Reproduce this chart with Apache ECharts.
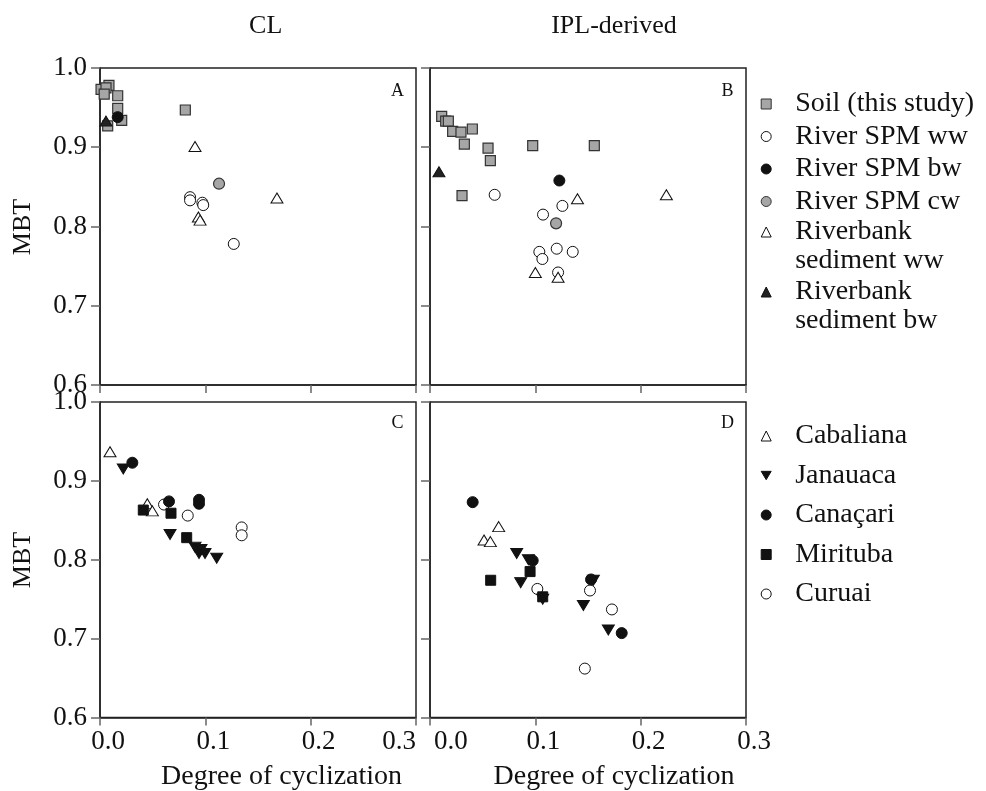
<!DOCTYPE html>
<html>
<head>
<meta charset="utf-8">
<script src="https://cdn.jsdelivr.net/npm/echarts@6/dist/echarts.min.js"></script>
<style>html,body{margin:0;padding:0;background:#fff}#c{width:986px;height:791px}</style>
</head>
<body>
<div id="c"></div>
<script>
// ---- axis ticks ----
const xTicks = [0.0, 0.1, 0.2, 0.3];
const yTicks = [0.6, 0.7, 0.8, 0.9, 1.0];

// ---- Panel A (CL) ----
const soilCL = [[0.0085,0.978],[0.001,0.973],[0.0057,0.975],[0.004,0.967],[0.0168,0.965],[0.0168,0.949],[0.0206,0.934],[0.0073,0.927],[0.081,0.947]];
const spmWwCL = [[0.0855,0.837],[0.0855,0.833],[0.0972,0.830],[0.098,0.827],[0.127,0.778]];
const spmBwCL = [[0.0168,0.938]];
const spmCwCL = [[0.113,0.854]];
const bankWwCL = [[0.0902,0.901],[0.168,0.836],[0.0934,0.812],[0.095,0.808]];
const bankBwCL = [[0.0057,0.933]];

// ---- Panel B (IPL-derived) ----
const soilIPL = [[0.0111,0.939],[0.0149,0.933],[0.0174,0.933],[0.0215,0.920],[0.0294,0.919],[0.0402,0.923],[0.0326,0.904],[0.0551,0.899],[0.0573,0.883],[0.0975,0.902],[0.156,0.902],[0.0304,0.839]];
const spmWwIPL = [[0.0614,0.840],[0.1257,0.826],[0.1073,0.815],[0.1038,0.768],[0.1067,0.759],[0.1203,0.772],[0.1355,0.768],[0.1216,0.742]];
const spmBwIPL = [[0.1228,0.858]];
const spmCwIPL = [[0.1197,0.804]];
const bankWwIPL = [[0.140,0.835],[0.2244,0.840],[0.100,0.742],[0.1216,0.736]];
const bankBwIPL = [[0.0085,0.869]];

// ---- Panel C (CL, lakes) ----
const cabCL = [[0.0095,0.937],[0.0449,0.871],[0.0497,0.862]];
const janCL = [[0.0221,0.915],[0.0665,0.832],[0.0902,0.816],[0.0959,0.813],[0.094,0.808],[0.0997,0.808],[0.1108,0.802]];
const canCL = [[0.0307,0.923],[0.0655,0.874],[0.094,0.876],[0.094,0.871]];
const mirCL = [[0.0411,0.863],[0.0674,0.859],[0.0823,0.828]];
const curCL = [[0.0608,0.870],[0.0833,0.856],[0.1345,0.841],[0.1345,0.831]];

// ---- Panel D (IPL-derived, lakes) ----
const cabIPL = [[0.0652,0.842],[0.0513,0.825],[0.0573,0.823]];
const janIPL = [[0.0823,0.808],[0.0934,0.800],[0.0861,0.771],[0.107,0.750],[0.1456,0.742],[0.1551,0.774],[0.1693,0.711]];
const canIPL = [[0.0405,0.873],[0.0975,0.799],[0.1529,0.775],[0.182,0.707]];
const mirIPL = [[0.0576,0.774],[0.095,0.785],[0.107,0.753]];
const curIPL = [[0.1019,0.763],[0.1519,0.761],[0.1727,0.737],[0.147,0.662]];

const topNames = ['Soil (this study)','River SPM ww','River SPM bw','River SPM cw','Riverbank sediment ww','Riverbank sediment bw'];
const botNames = ['Cabaliana','Janauaca','Canaçari','Mirituba','Curuai'];

const SERIF = '"Liberation Serif", "Times New Roman", serif';
const GRAY = '#a6a6a6', DARK = '#333333';
const DOWN = 'path://M0,0L12,0L6,10Z';

const grids = [
  {left:100, top:68, width:316, height:317},
  {left:430, top:68, width:316, height:317},
  {left:100, top:402, width:316, height:315.5},
  {left:430, top:402, width:316, height:315.5}
].map(g => Object.assign({show:true, borderColor:'#222', borderWidth:1.5, backgroundColor:'transparent'}, g));

function xAx(i, showLabel){
  const isC = i === 2, isD = i === 3;
  return {gridIndex:i, type:'value', min:xTicks[0], max:xTicks[xTicks.length-1], interval:0.1,
    splitLine:{show:false},
    axisLine:{show:true, onZero:false, lineStyle:{color:'#222', width:1.5}},
    axisTick:{show:true, inside:false, length:8, lineStyle:{color:'#666', width:1.5}},
    axisLabel:{show:showLabel, margin:11, fontFamily:SERIF, fontSize:27, color:'#111',
      alignMaxLabel: isC ? 'right' : 'center',
      alignMinLabel: isD ? 'left' : 'center',
      formatter:(v)=>{
        const s = v.toFixed(1);
        if (isC && Math.abs(v - xTicks[xTicks.length-1]) < 1e-9) return '{n|' + s + '}';
        if (isD && Math.abs(v - xTicks[0]) < 1e-9) return '{q|' + s + '}';
        return '{p|' + s + '}';
      },
      rich:{
        p:{fontFamily:SERIF, fontSize:27, color:'#111', padding:[0,0,0,16]},
        n:{fontFamily:SERIF, fontSize:27, color:'#111'},
        q:{fontFamily:SERIF, fontSize:27, color:'#111', padding:[0,0,0,4]}
      }}};
}
function yAx(i, showLabel){
  return {gridIndex:i, type:'value', min:yTicks[0], max:yTicks[yTicks.length-1], interval:0.1,
    splitLine:{show:false},
    axisLine:{show:true, onZero:false, lineStyle:{color:'#222', width:1.5}},
    axisTick:{show:true, inside:false, length:9, lineStyle:{color:'#666', width:1.5}},
    axisLabel:{show:showLabel, margin:13, fontFamily:SERIF, fontSize:27, color:'#111',
      formatter:v=>v.toFixed(1)}};
}

function S(name, data, gi, symbol, size, fill, stroke, bw){
  return {type:'scatter', name:name, data:data, xAxisIndex:gi, yAxisIndex:gi,
    symbol:symbol, symbolSize:size,
    itemStyle:{color:fill, borderColor:stroke, borderWidth:bw, opacity:1},
    emphasis:{disabled:true}, animation:false};
}

const series = [
  S(topNames[0], soilCL, 0, 'rect', 10, GRAY, DARK, 1.2),
  S(topNames[1], spmWwCL, 0, 'circle', 11, '#fff', '#111', 1),
  S(topNames[4], bankWwCL, 0, 'triangle', [12,10], '#fff', '#111', 1),
  S(topNames[3], spmCwCL, 0, 'circle', 11, GRAY, DARK, 1.2),
  S(topNames[5], bankBwCL, 0, 'triangle', [12,10], '#222', '#111', 1),
  S(topNames[2], spmBwCL, 0, 'circle', 11, '#111', '#111', 1),

  S(topNames[0], soilIPL, 1, 'rect', 10, GRAY, DARK, 1.2),
  S(topNames[1], spmWwIPL, 1, 'circle', 11, '#fff', '#111', 1),
  S(topNames[4], bankWwIPL, 1, 'triangle', [12,10], '#fff', '#111', 1),
  S(topNames[3], spmCwIPL, 1, 'circle', 11, GRAY, DARK, 1.2),
  S(topNames[5], bankBwIPL, 1, 'triangle', [12,10], '#222', '#111', 1),
  S(topNames[2], spmBwIPL, 1, 'circle', 11, '#111', '#111', 1),

  S(botNames[0], cabCL, 2, 'triangle', [12,10], '#fff', '#111', 1),
  S(botNames[4], curCL, 2, 'circle', 11, '#fff', '#111', 1),
  S(botNames[1], janCL, 2, DOWN, [12,10], '#111', '#111', 1),
  S(botNames[2], canCL, 2, 'circle', 11, '#111', '#111', 1),
  S(botNames[3], mirCL, 2, 'rect', 10, '#111', '#111', 1),

  S(botNames[0], cabIPL, 3, 'triangle', [12,10], '#fff', '#111', 1),
  S(botNames[4], curIPL, 3, 'circle', 11, '#fff', '#111', 1),
  S(botNames[1], janIPL, 3, DOWN, [12,10], '#111', '#111', 1),
  S(botNames[2], canIPL, 3, 'circle', 11, '#111', '#111', 1),
  S(botNames[3], mirIPL, 3, 'rect', 10, '#111', '#111', 1)
];

const legendText = {fontFamily:SERIF, fontSize:28, color:'#111', lineHeight:29, padding:[0,0,0,19]};
function leg(names, top, gap, fmt){
  const o = {orient:'vertical', left:760.7, top:top, padding:0, itemGap:gap, itemWidth:10, itemHeight:10,
    selectedMode:false, symbolKeepAspect:true, itemStyle:{borderWidth:1},
    textStyle:legendText, data:names};
  if (fmt) o.formatter = fmt;
  return o;
}
const twoLine = n => '\n' + n.replace('Riverbank ', 'Riverbank\n');
const legends = [
  leg(topNames.slice(0,4), 89.5, 3.5),
  leg([topNames[4]], 232 - 43.5, 0, twoLine),
  leg([topNames[5]], 292 - 43.5, 0, twoLine),
  leg(botNames.slice(), 421.5, 10.5)
];

function txt(t, x, y, size, rot){
  return {type:'text', x:x, y:y, rotation:rot||0, silent:true,
    style:{text:t, font:size+'px '+SERIF, fill:'#111', align:'center', verticalAlign:'middle', textAlign:'center', textVerticalAlign:'middle'}};
}
const graphics = [
  txt('CL', 265.7, 26, 26),
  txt('IPL-derived', 614, 26, 26),
  txt('MBT', 23, 227, 26, Math.PI/2),
  txt('MBT', 23, 560, 26, Math.PI/2),
  txt('Degree of cyclization', 281.6, 777, 28),
  txt('Degree of cyclization', 614, 777, 28),
  txt('A', 397.5, 91, 18),
  txt('B', 727.5, 91, 18),
  txt('C', 397.5, 423, 18),
  txt('D', 727.5, 423, 18)
];

const chart = echarts.init(document.getElementById('c'), null, {renderer:'canvas'});
chart.setOption({
  animation:false,
  backgroundColor:'#fff',
  grid: grids,
  xAxis: [xAx(0,false), xAx(1,false), xAx(2,true), xAx(3,true)],
  yAxis: [yAx(0,true), yAx(1,false), yAx(2,true), yAx(3,false)],
  legend: legends,
  graphic: graphics,
  series: series
});
</script>
</body>
</html>
